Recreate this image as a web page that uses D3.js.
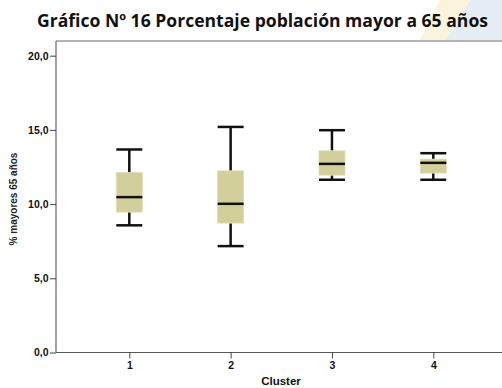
<!DOCTYPE html>
<html><head><meta charset="utf-8">
<script src="https://cdn.jsdelivr.net/npm/d3@7"></script>
<style>body{margin:0;background:#fff}svg{display:block}</style>
</head><body>
<svg id="c" width="502" height="388"></svg>
<script>
const categories = ["1","2","3","4"];
const whiskerLow  = [8.57, 7.17, 11.64, 11.64];
const q1          = [9.46, 8.72, 11.95, 12.09];
const median      = [10.47, 10.02, 12.71, 12.78];
const q3          = [12.13, 12.24, 13.59, 13.03];
const whiskerHigh = [13.68, 15.20, 14.98, 13.43];
const yTicks = [0, 5, 10, 15, 20];

(function () {
const svg = d3.select("#c");
const mLeft = 56, mRight = 507, mTop = 41, mBottom = 352.5;

// faint watermark
const wm = svg.append("g").attr("opacity", 0.3);
wm.append("path").attr("d", "M440,0 L470,0 L445,40 L420,40 Z").attr("fill", "#f2d98a");
wm.append("path").attr("d", "M470,0 L502,0 L502,40 L445,40 Z").attr("fill", "#b3c6dc");

svg.append("text").attr("x", 37).attr("y", 27)
  .attr("font-family", "Open Sans, sans-serif").attr("font-weight", "bold")
  .attr("font-size", 17).attr("fill", "#111")
  .attr("textLength", 451).attr("lengthAdjust", "spacingAndGlyphs")
  .text("Gráfico Nº 16 Porcentaje población mayor a 65 años");

const y = d3.scaleLinear().domain([0, 20]).range([mBottom, 55.7]);
const x = d3.scalePoint().domain(categories).range([129.3, 433.3]);

// frame
svg.append("line").attr("x1", mLeft).attr("x2", mRight).attr("y1", mTop).attr("y2", mTop)
  .attr("stroke", "#666").attr("stroke-width", 1);
svg.append("line").attr("x1", mLeft).attr("x2", mLeft).attr("y1", mTop).attr("y2", mBottom)
  .attr("stroke", "#666").attr("stroke-width", 1.2);

const yAxis = svg.append("g").attr("transform", `translate(${mLeft},0)`)
  .call(d3.axisLeft(y).tickValues(yTicks).tickSize(6).tickSizeOuter(0)
    .tickFormat(d => d3.format(".1f")(d).replace(".", ",")));
yAxis.select(".domain").remove();
yAxis.selectAll("line").attr("stroke", "#444");
yAxis.selectAll("text").attr("font-family", "Liberation Sans, Arial, sans-serif")
  .attr("font-weight", "bold").attr("font-size", 10.5).attr("fill", "#111").attr("x", -7.5);

const xAxis = svg.append("g").attr("transform", `translate(0,${mBottom})`)
  .call(d3.axisBottom(x).tickSize(6).tickSizeOuter(0));
xAxis.select(".domain").attr("d", `M${mLeft},0H${mRight}`).attr("stroke", "#555").attr("stroke-width", 1.2);
xAxis.selectAll(".tick line").attr("stroke", "#444");
xAxis.selectAll(".tick text").attr("font-family", "Liberation Sans, Arial, sans-serif")
  .attr("font-weight", "bold").attr("font-size", 10.5).attr("fill", "#111").attr("y", 9.5);

svg.append("text").attr("x", 281).attr("y", 385).attr("text-anchor", "middle")
  .attr("font-family", "Liberation Sans, Arial, sans-serif").attr("font-weight", "bold")
  .attr("font-size", 11.5).attr("fill", "#111").text("Cluster");

svg.append("text").attr("transform", "translate(17,199) rotate(-90)").attr("text-anchor", "middle")
  .attr("font-family", "Liberation Sans, Arial, sans-serif").attr("font-weight", "bold")
  .attr("font-size", 10).attr("fill", "#222").text("% mayores 65 años");

const bw = 26;
const g = svg.append("g");
categories.forEach((c, i) => {
  const cx = x(c);
  const b = g.append("g");
  b.append("line").attr("x1", cx).attr("x2", cx).attr("y1", y(whiskerHigh[i])).attr("y2", y(q3[i]))
    .attr("stroke", "#111").attr("stroke-width", 2.5);
  b.append("line").attr("x1", cx).attr("x2", cx).attr("y1", y(q1[i])).attr("y2", y(whiskerLow[i]))
    .attr("stroke", "#111").attr("stroke-width", 2.5);
  b.append("line").attr("x1", cx - bw/2).attr("x2", cx + bw/2).attr("y1", y(whiskerHigh[i])).attr("y2", y(whiskerHigh[i]))
    .attr("stroke", "#111").attr("stroke-width", 2.5);
  b.append("line").attr("x1", cx - bw/2).attr("x2", cx + bw/2).attr("y1", y(whiskerLow[i])).attr("y2", y(whiskerLow[i]))
    .attr("stroke", "#111").attr("stroke-width", 2.5);
  b.append("rect").attr("x", cx - bw/2).attr("width", bw).attr("y", y(q3[i])).attr("height", y(q1[i]) - y(q3[i]))
    .attr("fill", "#d3cf9a").attr("stroke", "#e0ddb8").attr("stroke-width", 0.8);
  b.append("line").attr("x1", cx - bw/2).attr("x2", cx + bw/2).attr("y1", y(median[i])).attr("y2", y(median[i]))
    .attr("stroke", "#111").attr("stroke-width", 2.5);
});
})();
</script>
</body></html>
